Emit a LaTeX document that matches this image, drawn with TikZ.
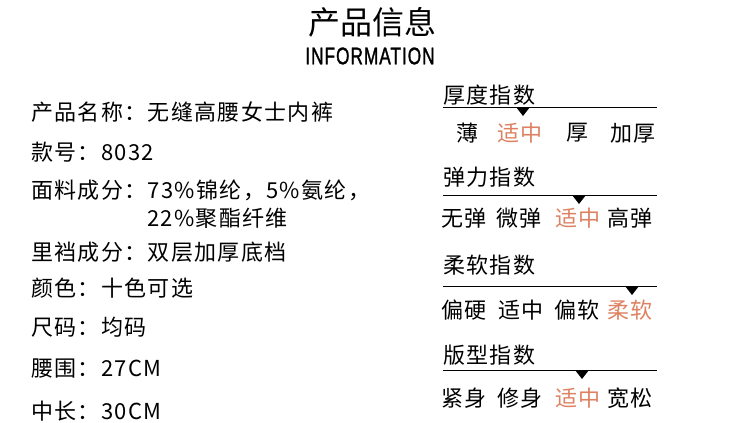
\documentclass[tikz,border=0pt]{standalone}
\usepackage{fontspec}
\setmainfont{Noto Sans CJK SC}
\newfontfamily\cjk[LetterSpace=6]{Noto Sans CJK SC}
\newfontfamily\latin[FakeStretch=0.72, FakeBold=1.2, LetterSpace=4]{Liberation Sans}
\definecolor{accent}{RGB}{221,129,97}

\begin{document}
\begin{tikzpicture}[x=1pt, y=-1pt,
    info/.style={anchor=west, inner sep=0pt, font=\cjk\fontsize{22}{22}\selectfont},
    level/.style={anchor=center, inner sep=0pt, font=\cjk\fontsize{22}{22}\selectfont},
    chosen/.style={level, text=accent}]
    \useasboundingbox[fill=white] (0, 0) rectangle (750, 423);
    % titolo
    \node[inner sep=0pt, font=\fontsize{32}{32}\selectfont] (title) at (372, 22) {产品信息};
    \node[inner sep=0pt, font=\latin\fontsize{24}{24}\selectfont] (subtitle) at (370, 56) {INFORMATION};
    % colonna sinistra
    \node[info] (name) at (31, 112) {产品名称：无缝高腰女士内裤};
    \node[info] (sku) at (31, 152) {款号：8032};
    \node[info] (fabric) at (31, 190) {面料成分：73\%锦纶，5\%氨纶，};
    \node[info] (fabricb) at (147, 218) {22\%聚酯纤维};
    \node[info] (crotch) at (31, 252) {里裆成分：双层加厚底档};
    \node[info] (colour) at (31, 288) {颜色：十色可选};
    \node[info] (size) at (31, 327) {尺码：均码};
    \node[info] (waist) at (31, 369) {腰围：27CM};
    \node[info] (length) at (31, 411) {中长：30CM};
    %厚度指数
    \node[info] (thick) at (443, 95) {厚度指数};
    \draw[line width=1pt] (443, 107) -- (657, 107);
    \coordinate (thickmark) at (523, 107);
    \fill (thickmark) ++(-7, 0) -- ++(14, 0) -- ++(-7, 9) -- cycle;
    \node[level] (thicka) at (467, 133) {薄};
    \node[chosen] (thickb) at (520, 133) {适中};
    \node[level] (thickc) at (577, 133) {厚};
    \node[level] (thickd) at (633, 133) {加厚};
    % 弹力指数
    \node[info] (elastic) at (443, 177) {弹力指数};
    \draw[line width=1pt] (443, 195) -- (657, 195);
    \coordinate (elasticmark) at (579, 195);
    \fill (elasticmark) ++(-7, 0) -- ++(14, 0) -- ++(-7, 9) -- cycle;
    \node[level] (elastica) at (464, 218) {无弹};
    \node[level] (elasticb) at (519, 218) {微弹};
    \node[chosen] (elasticc) at (578, 218) {适中};
    \node[level] (elasticd) at (630, 218) {高弹};
    % 柔软指数
    \node[info] (soft) at (443, 265) {柔软指数};
    \draw[line width=1pt] (443, 286) -- (657, 286);
    \coordinate (softmark) at (632, 286);
    \fill (softmark) ++(-7, 0) -- ++(14, 0) -- ++(-7, 9) -- cycle;
    \node[level] (softa) at (464, 310) {偏硬};
    \node[level] (softb) at (521, 310) {适中};
    \node[level] (softc) at (577, 310) {偏软};
    \node[chosen] (softd) at (630, 310) {柔软};
    % 版型指数
    \node[info] (fit) at (443, 355) {版型指数};
    \draw[line width=1pt] (443, 370) -- (657, 370);
    \coordinate (fitmark) at (582, 370);
    \fill (fitmark) ++(-7, 0) -- ++(14, 0) -- ++(-7, 9) -- cycle;
    \node[level] (fita) at (464, 398) {紧身};
    \node[level] (fitb) at (520, 398) {修身};
    \node[chosen] (fitc) at (578, 398) {适中};
    \node[level] (fitd) at (630, 398) {宽松};
\end{tikzpicture}
\end{document}
